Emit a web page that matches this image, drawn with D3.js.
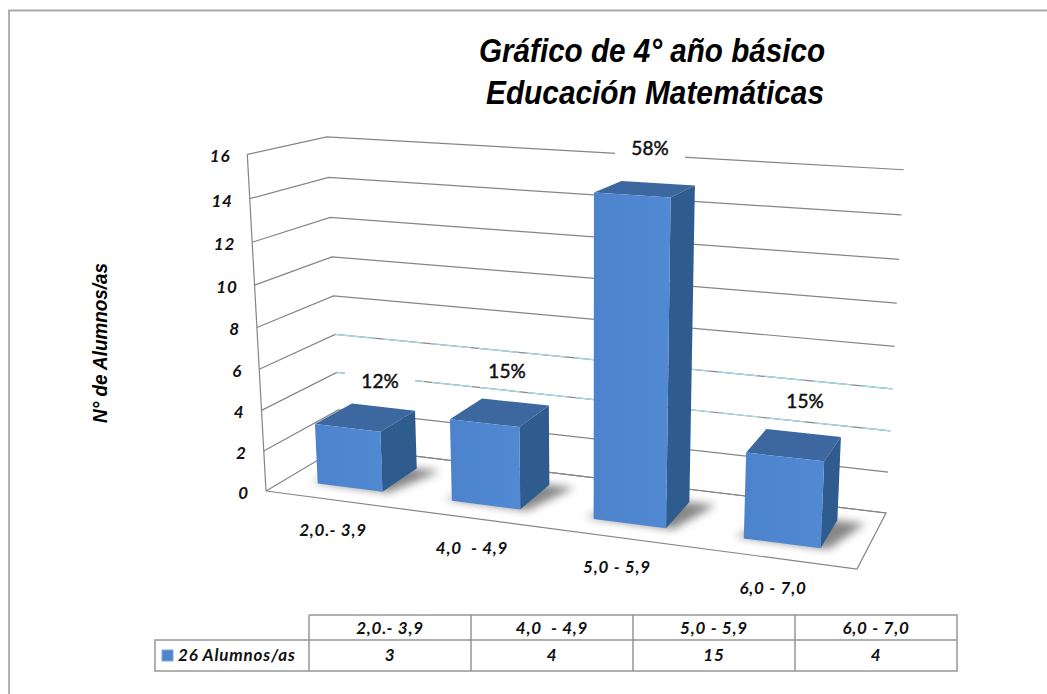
<!DOCTYPE html>
<html><head><meta charset="utf-8">
<script src="https://cdn.jsdelivr.net/npm/d3@7"></script>
<style>html,body{margin:0;padding:0;background:#fff}svg{display:block}</style>
</head><body><div id="c"></div>
<script>
const categories = ["2,0.- 3,9", "4,0  - 4,9", "5,0 - 5,9", "6,0 - 7,0"];
const alumnos = [3, 4, 15, 4];
const percents = ["12%", "15%", "58%", "15%"];
const valueTicks = [0, 2, 4, 6, 8, 10, 12, 14, 16];
const seriesName = "26 Alumnos/as";
const titleLines = ["Gráfico de 4° año básico", "Educación Matemáticas"];
const yTitle = "N° de Alumnos/as";

const W = 1047, H = 694;
const svg = d3.select("#c").append("svg").attr("width", W).attr("height", H);
const defs = svg.append("defs");
defs.append("filter").attr("id","blur").attr("x","-30%").attr("y","-30%").attr("width","160%").attr("height","160%")
  .append("feGaussianBlur").attr("stdDeviation",4.5);
const soft = defs.append("filter").attr("id","soft");
soft.append("feGaussianBlur").attr("stdDeviation",0.45);
const grad = defs.append("linearGradient").attr("id","front");
[[0,"#4d83cc"],[0.45,"#4f86d0"],[1,"#5289d3"]].forEach(s=>grad.append("stop").attr("offset",s[0]).attr("stop-color",s[1]));

/* view calibration: box corners [u,v,value] -> screen */
const floorCorners = [[0,0,266,491],[1,0,857,569],[1,1,886,513],[0,1,340,447]];
const topCorners = [[0,0,249,157],[0,1,325,137],[1,1,904,167]];
function solve(A,b){
  const n=b.length, M=A.map((r,i)=>[...r,b[i]]);
  for(let i=0;i<n;i++){
    let p=i; for(let k=i+1;k<n;k++) if(Math.abs(M[k][i])>Math.abs(M[p][i])) p=k;
    [M[i],M[p]]=[M[p],M[i]];
    for(let k=0;k<n;k++){ if(k===i) continue; const f=M[k][i]/M[i][i]; for(let j=i;j<=n;j++) M[k][j]-=f*M[i][j]; }
  }
  return M.map((r,i)=>r[n]/r[i]);
}
const A8=[],b8=[];
floorCorners.forEach(([u,v,x,y])=>{
  A8.push([u,v,1,0,0,0,-u*x,-v*x]); b8.push(x);
  A8.push([0,0,0,u,v,1,-u*y,-v*y]); b8.push(y);
});
const h8=solve(A8,b8);
const rows=[],rhs=[];
topCorners.forEach(([u,v,x,y])=>{
  const w=h8[6]*u+h8[7]*v+1, nx=h8[0]*u+h8[1]*v+h8[2], ny=h8[3]*u+h8[4]*v+h8[5];
  rows.push([1,0,-x]); rhs.push(x*w-nx);
  rows.push([0,1,-y]); rhs.push(y*w-ny);
});
const ATA=[0,1,2].map(i=>[0,1,2].map(j=>d3.sum(rows,r=>r[i]*r[j])));
const ATb=[0,1,2].map(i=>d3.sum(rows,(r,k)=>r[i]*rhs[k]));
const hc=solve(ATA,ATb);
const zScale=d3.scaleLinear().domain([0,16]).range([0,1]);
function project(u,v,val){
  const z=zScale(val);
  const w=h8[6]*u+h8[7]*v+hc[2]*z+1;
  return [(h8[0]*u+h8[1]*v+h8[2]+hc[0]*z)/w,(h8[3]*u+h8[4]*v+h8[5]+hc[1]*z)/w];
}
const line=d3.line();
const uScale=d3.scaleBand().domain(categories).range([-0.002,0.995]).paddingInner(0.51).paddingOuter(0.255);
const vFront=0.25, vBack=0.76;

const g=svg.append("g");
/* page frame */
g.append("path").attr("d","M9 694V10.5H1047").attr("fill","none").attr("stroke","#a9a9a9").attr("stroke-width",1.8);

/* walls */
const grid=g.append("g").attr("fill","none").attr("stroke","#858585").attr("stroke-width",1.2).attr("filter","url(#soft)");
valueTicks.forEach(t=>{
  grid.append("path").attr("d",line([project(0,0,t),project(0,1,t),project(1,1,t)]));
  if(t===4||t===6) grid.append("path").attr("d",line([project(0,1,t),project(1,1,t)])).attr("stroke","#a5dde8").attr("stroke-width",1.2).attr("stroke-dasharray","40 8");
});
grid.append("path").attr("d",line([project(0,0,0),project(0,0,16)]));
grid.append("path").attr("d",line([project(0,0,0),project(1,0,0),project(1,1,0),project(0,1,0)]));

/* bars */
const barsG=g.append("g");
categories.forEach((c,i)=>{
  const u0=uScale(c),u1=u0+uScale.bandwidth(),val=alumnos[i];
  const b=barsG.append("g");
  b.append("path").attr("d",line([project(u0-0.015,vFront+0.02,0),project(u1+0.012,vFront,0),project(u1+0.045,vBack,0),project(u0+0.05,vBack,0)])+"Z")
    .attr("fill","#555").attr("opacity",0.7).attr("filter","url(#blur)");
  const faces=b.append("g").attr("filter","url(#soft)");
  faces.append("path").attr("d",line([project(u0,vFront,val),project(u1,vFront,val),project(u1,vBack,val),project(u0,vBack,val)])+"Z").attr("fill","#3c689f");
  faces.append("path").attr("d",line([project(u1,vFront,0),project(u1,vBack,0),project(u1,vBack,val),project(u1,vFront,val)])+"Z").attr("fill","#2f5c8e");
  faces.append("path").attr("d",line([project(u0,vFront,0),project(u1,vFront,0),project(u1,vFront,val),project(u0,vFront,val)])+"Z").attr("fill","url(#front)");
});

/* data labels */
const sansLabel='Lato, "Open Sans", sans-serif';
const pctPos=[[380,381],[507,371],[650,148],[805,401]];
const pctG=g.append("g");
categories.forEach((c,i)=>{
  const [x,y]=pctPos[i];
  pctG.append("rect").attr("x",x-35).attr("y",y-11).attr("width",70).attr("height",22).attr("fill","#fff");
});
categories.forEach((c,i)=>{
  const [x,y]=pctPos[i];
  pctG.append("text").attr("x",x).attr("y",y).attr("dy","0.35em").attr("text-anchor","middle")
    .attr("font-family",sansLabel).attr("font-size",19).attr("font-weight",400).attr("stroke","#111").attr("stroke-width",0.5).attr("fill","#111").text(percents[i]);
});

/* value axis labels */
const labelSize=17, labelSpacing="0.8px";
valueTicks.forEach(t=>{
  const p=project(0,0,t);
  g.append("text").attr("x",p[0]-17).attr("y",p[1]+2).attr("dy","0.35em").attr("text-anchor","end")
   .attr("font-family",sansLabel).attr("font-size",labelSize).attr("letter-spacing",labelSpacing).attr("font-weight",700).attr("font-style","italic").attr("fill","#111").text(t);
});

/* category labels */
const catPos=[[333,530],[472,548],[617,567],[773,588]];
categories.forEach((c,i)=>{
  g.append("text").attr("x",catPos[i][0]).attr("y",catPos[i][1]).attr("dy","0.35em").attr("text-anchor","middle")
   .style("white-space","pre")
   .attr("font-family",sansLabel).attr("font-size",labelSize).attr("letter-spacing",labelSpacing).attr("font-weight",700).attr("font-style","italic").attr("fill","#111").text(c);
});

/* titles */
const titleFont='"Liberation Sans", Arial, sans-serif';
titleLines.forEach((s,i)=>{
  g.append("text").attr("x",652+3*i).attr("y",[62,104][i]).attr("text-anchor","middle")
   .attr("font-family",titleFont).attr("font-size",33).attr("font-weight",700).attr("font-style","italic")
   .attr("textLength",[346,338][i]).attr("lengthAdjust","spacingAndGlyphs").attr("fill","#000").text(s);
});
g.append("text").attr("transform","translate(107,343) rotate(-90)").attr("text-anchor","middle")
  .attr("font-family",titleFont).attr("font-size",20).attr("font-weight",700).attr("font-style","italic")
  .attr("textLength",160).attr("lengthAdjust","spacingAndGlyphs").attr("fill","#000").text(yTitle);

/* data table */
const tx=d3.scaleBand().domain(categories).range([309,957]);
const rowY=[615,640,671], leftX=155;
const tg=g.append("g").attr("fill","none").attr("stroke","#969696").attr("stroke-width",1.5);
tg.append("path").attr("d",`M309 ${rowY[0]}H957V${rowY[2]}H${leftX}V${rowY[1]}H957`);
categories.forEach(c=>tg.append("path").attr("d",`M${tx(c)} ${rowY[0]}V${rowY[2]}`));
categories.forEach((c,i)=>{
  const cx=tx(c)+tx.bandwidth()/2;
  g.append("text").attr("x",cx).attr("y",(rowY[0]+rowY[1])/2+0.5).attr("dy","0.35em").attr("text-anchor","middle").style("white-space","pre")
   .attr("font-family",sansLabel).attr("font-size",labelSize).attr("letter-spacing",labelSpacing).attr("font-weight",700).attr("font-style","italic").attr("fill","#111").text(c);
  g.append("text").attr("x",cx).attr("y",(rowY[1]+rowY[2])/2).attr("dy","0.35em").attr("text-anchor","middle")
   .attr("font-family",sansLabel).attr("font-size",labelSize).attr("letter-spacing",labelSpacing).attr("font-weight",700).attr("font-style","italic").attr("fill","#111").text(alumnos[i]);
});
g.append("rect").attr("x",162).attr("y",650).attr("width",11).attr("height",11).attr("fill","#4f86c8").attr("stroke","#7fa6d8");
g.append("text").attr("x",178).attr("y",655.5).attr("dy","0.35em").attr("font-family",sansLabel).attr("font-size",labelSize)
  .attr("letter-spacing",labelSpacing).attr("font-weight",700).attr("font-style","italic").attr("fill","#111").text(seriesName);
</script></body></html>
